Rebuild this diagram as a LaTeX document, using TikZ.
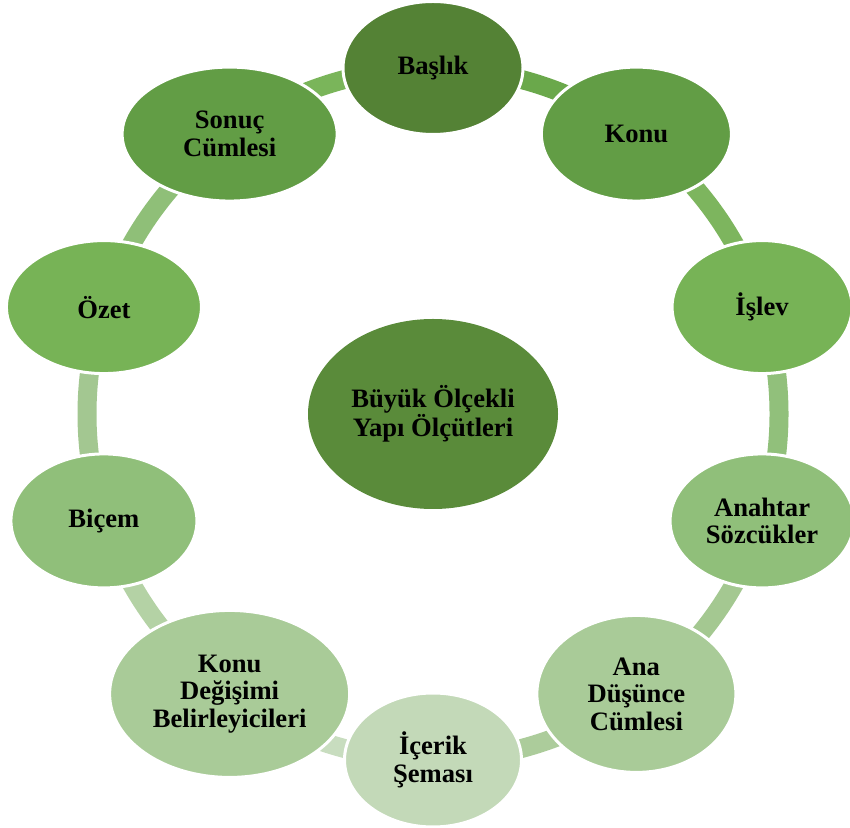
\documentclass[tikz,border=0pt]{standalone}
\usepackage{fontspec}
\setmainfont{Liberation Serif}
\usetikzlibrary{shapes.geometric,backgrounds}
\definecolor{cBasl}{HTML}{548235}
\definecolor{cKonu}{HTML}{629D45}
\definecolor{cIslev}{HTML}{77B356}
\definecolor{cAnah}{HTML}{90BF7A}
\definecolor{cAna}{HTML}{A9CB98}
\definecolor{cIcer}{HTML}{C3D9B8}
\definecolor{cMid}{HTML}{5A8B3A}
\definecolor{aA}{HTML}{6AA84B}
\definecolor{aB}{HTML}{7DB55E}
\definecolor{aC}{HTML}{91C07B}
\definecolor{aD}{HTML}{A4C891}
\definecolor{aE}{HTML}{ACCC9B}
\definecolor{aF}{HTML}{C8DDBF}
\definecolor{aG}{HTML}{B4D2A5}
\definecolor{aH}{HTML}{A3C791}
\definecolor{aI}{HTML}{8FBF78}
\definecolor{aJ}{HTML}{7AB55A}
\tikzset{
  bub/.style={ellipse, draw=white, line width=3pt, inner sep=0pt, align=center,
    font=\bfseries\fontsize{26.6}{27.5}\selectfont, text=black},
  ringarc/.style={line width=19pt},
}
\begin{document}
\begin{tikzpicture}[x=1pt,y=1pt]
\useasboundingbox (0,0) rectangle (850,827);
\coordinate (C) at (433,413);
\node[bub, fill=cBasl, minimum width=180, minimum height=133] (basl) at ([shift={(90:346)}]C) {Başlık};
\node[bub, fill=cKonu, minimum width=190, minimum height=134] (konu) at ([shift={(54:346)}]C) {Konu};
\node[bub, fill=cIslev, minimum width=180, minimum height=133] (islev) at ([shift={(18:346)}]C) {İşlev};
\node[bub, fill=cAnah, minimum width=184, minimum height=134] (anah) at ([shift={(-18:346)}]C) {Anahtar\\Sözcükler};
\node[bub, fill=cAna, minimum width=199, minimum height=157] (ana) at ([shift={(-54:346)}]C) {Ana\\Düşünce\\Cümlesi};
\node[bub, fill=cIcer, minimum width=177, minimum height=134] (icer) at ([shift={(-90:346)}]C) {İçerik\\Şeması};
\node[bub, fill=cAna, minimum width=240, minimum height=167] (kdeg) at ([shift={(-126:346)}]C) {Konu\\Değişimi\\Belirleyicileri};
\node[bub, fill=cAnah, minimum width=186, minimum height=134] (bicem) at ([shift={(-162:346)}]C) {Biçem};
\node[bub, fill=cIslev, minimum width=195, minimum height=133] (ozet) at ([shift={(162:346)}]C) {Özet};
\node[bub, fill=cKonu, minimum width=215, minimum height=134] (sonuc) at ([shift={(126:346)}]C) {Sonuç\\Cümlesi};
\node[bub, draw=none, fill=cMid, minimum width=250, minimum height=190] (mid) at (C) {Büyük Ölçekli\\Yapı Ölçütleri};
\begin{scope}[on background layer]
\draw[ringarc, aA] (basl.center) arc[start angle=90, end angle=54, radius=346];
\draw[ringarc, aB] (konu.center) arc[start angle=54, end angle=18, radius=346];
\draw[ringarc, aC] (islev.center) arc[start angle=18, end angle=-18, radius=346];
\draw[ringarc, aD] (anah.center) arc[start angle=-18, end angle=-54, radius=346];
\draw[ringarc, aE] (ana.center) arc[start angle=-54, end angle=-90, radius=346];
\draw[ringarc, aF] (icer.center) arc[start angle=-90, end angle=-126, radius=346];
\draw[ringarc, aG] (kdeg.center) arc[start angle=-126, end angle=-162, radius=346];
\draw[ringarc, aH] (bicem.center) arc[start angle=-162, end angle=-198, radius=346];
\draw[ringarc, aI] (ozet.center) arc[start angle=162, end angle=126, radius=346];
\draw[ringarc, aJ] (sonuc.center) arc[start angle=126, end angle=90, radius=346];
\end{scope}
\end{tikzpicture}
\end{document}
